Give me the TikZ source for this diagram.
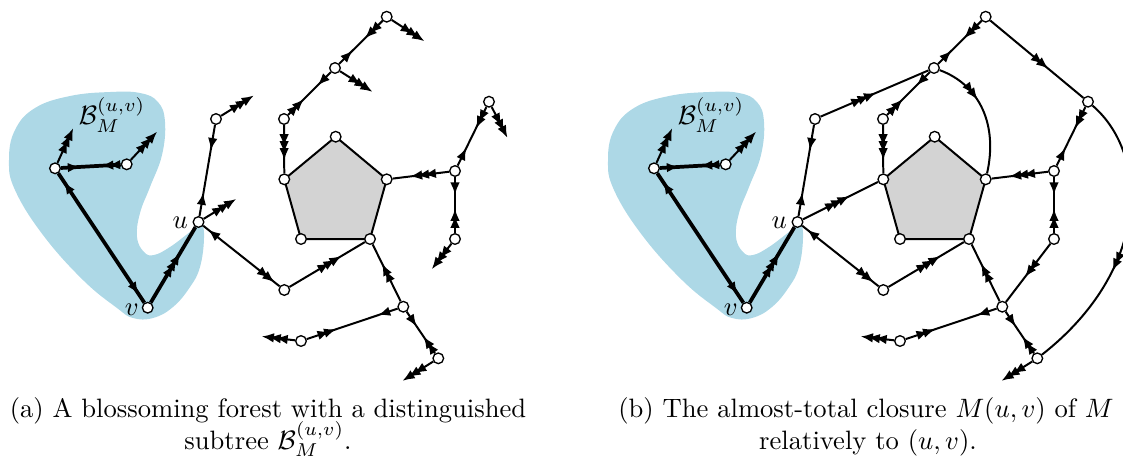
\documentclass[tikz,border=0pt]{standalone}
\usetikzlibrary{arrows.meta,decorations.markings}
\definecolor{blobblue}{RGB}{173,216,230}
\definecolor{pentgray}{RGB}{211,211,211}
\pgfdeclarelayer{bg}
\pgfdeclarelayer{edges}
\pgfsetlayers{bg,edges,main}
\tikzset{
  >={Latex[length=4.6pt,width=3.6pt,sep=-2pt]},
  vtx/.style={circle,draw=black,fill=white,line width=0.5pt,inner sep=0pt,minimum size=4pt},
  edge/.style={line width=0.75pt,draw=black},
  tedge/.style={line width=1.4pt,draw=black},
  stem/.style={line width=0.75pt,draw=black,->>>},
  mf/.style 2 args={postaction={decorate,decoration={markings,mark=at position #1 with {\arrow{#2}}}}},
  mb/.style 2 args={postaction={decorate,decoration={markings,mark=at position #1 with {\arrowreversed{#2}}}}},
  blob/.style={fill=blobblue,draw=none},
  pent/.style={fill=pentgray,draw=black,line width=0.75pt,line join=round},
  lbl/.style={inner sep=1pt},
}
\newcommand\mkvertices[1]{%
  \node[vtx] (#1T) at (386.7,16.7) {};
  \node[vtx] (#1N2) at (335,68) {};
  \node[vtx] (#1N3) at (284,119) {};
  \node[vtx] (#1PT) at (335.7,136.7) {};
  \node[vtx] (#1PL) at (284.3,179.3) {};
  \node[vtx] (#1PR) at (386.7,179.3) {};
  \node[vtx] (#1PBL) at (301,239) {};
  \node[vtx] (#1PBR) at (370,239) {};
  \node[vtx] (#1A) at (216,119) {};
  \node[vtx] (#1U) at (198.5,222) {};
  \node[vtx] (#1P1) at (284.3,290) {};
  \node[vtx] (#1R1) at (489,101.7) {};
  \node[vtx] (#1R2) at (455,171) {};
  \node[vtx] (#1R3) at (455,239) {};
  \node[vtx] (#1B1) at (403.3,306.7) {};
  \node[vtx] (#1B2) at (301,341) {};
  \node[vtx] (#1B3) at (438.3,358.3) {};
  \node[vtx] (#1L1) at (55,168.3) {};
  \node[vtx] (#1L2) at (126.7,164.3) {};
  \node[vtx] (#1V) at (147.7,307.7) {};
  \node[lbl,anchor=east] (#1ulab) at (191,222.5) {$u$};
  \node[lbl,anchor=east] (#1vlab) at (142,310) {$v$};
  \node[lbl] (#1blab) at (112,115) {$\mathcal{B}_M^{(u,v)}$};
  \coordinate (#1L1s) at (71,133);
  \coordinate (#1L2s) at (153.5,135.5);
  \coordinate (#1B2s) at (267,337);
  \coordinate (#1B3s) at (407,378);
}
\newcommand\mkback[1]{%
  \fill[blob] plot[smooth cycle,tension=0.7] coordinates {(110,92) (140,93) (158,102) (165,122) (162,155) (150,187) (140,213) (137,237) (144,252) (154,255) (170,247) (190,232) (201,224) (204,238) (200,267) (190,287) (173,307) (153,318) (133,318) (117,308) (83,280) (43,235) (15,190) (9,160) (15,130) (35,108) (70,96)};
  \draw[pent] (#1PT.center) -- (#1PR.center) -- (#1PBR.center) -- (#1PBL.center) -- (#1PL.center) -- cycle;
}
\newcommand\mkedges[1]{%
  \draw[edge,mf={0.32}{>>},mb={0.78}{>}] (#1T) -- (#1N2);
  \draw[edge,mf={0.22}{>},mb={0.72}{>>}] (#1N2) -- (#1N3);
  \draw[edge,mf={0.62}{>>>}] (#1N3) -- (#1PL);
  \draw[edge,mf={0.6}{>>>}] (#1R2) -- (#1PR);
  \draw[edge,mf={0.22}{>},mb={0.72}{>>}] (#1R2) -- (#1R1);
  \draw[edge,mf={0.22}{>},mb={0.66}{>>}] (#1R2) -- (#1R3);
  \draw[edge,mf={0.58}{>>}] (#1B1) -- (#1PBR);
  \draw[edge,mf={0.27}{>>},mb={0.84}{>}] (#1B2) -- (#1B1);
  \draw[edge,mf={0.25}{>},mb={0.7}{>>}] (#1B1) -- (#1B3);
  \draw[edge,mf={0.63}{>>>}] (#1P1) -- (#1PBR);
  \draw[edge,mb={0.12}{>},mf={0.88}{>>}] (#1U) -- (#1P1);
  \draw[edge,mf={0.22}{>},mb={0.8}{>}] (#1A) -- (#1U);
  \draw[tedge,mf={0.6}{>>>}] (#1V) -- (#1U);
  \draw[tedge,mb={0.1}{>},mf={0.9}{>}] (#1L1) -- (#1V);
  \draw[tedge,mf={0.23}{>},mb={0.76}{>>}] (#1L1) -- (#1L2);
  \draw[stem] (#1L1) -- (#1L1s);
  \draw[stem] (#1L2) -- (#1L2s);
  \draw[stem] (#1B2) -- (#1B2s);
  \draw[stem] (#1B3) -- (#1B3s);
}
\begin{document}
\begin{tikzpicture}[x=0.376pt,y=-0.376pt]
\useasboundingbox (0,0) rectangle (1123,464);
% panel (a)
\begin{scope}
  \mkvertices{a}
  \coordinate (aTs) at (420,38.3);
  \coordinate (aN2s) at (368,89);
  \coordinate (aAs) at (249.3,98.3);
  \coordinate (aUs) at (231.7,201.7);
  \coordinate (aR1s) at (505,133);
  \coordinate (aR3s) at (435,265);
  \begin{pgfonlayer}{bg}\mkback{a}\end{pgfonlayer}
  \begin{pgfonlayer}{edges}
    \mkedges{a}
    \draw[stem] (aT) -- (aTs);
    \draw[stem] (aN2) -- (aN2s);
    \draw[stem] (aA) -- (aAs);
    \draw[stem] (aU) -- (aUs);
    \draw[stem] (aR1) -- (aR1s);
    \draw[stem] (aR3) -- (aR3s);
  \end{pgfonlayer}
\end{scope}
% panel (b)
\begin{scope}[shift={(599,0)}]
  \mkvertices{b}
  \begin{pgfonlayer}{bg}\mkback{b}\end{pgfonlayer}
  \begin{pgfonlayer}{edges}
    \mkedges{b}
    \draw[edge,mf={0.47}{>>>}] (bA) -- (bN2);
    \draw[edge,mf={0.56}{>>>}] (bU) -- (bPL);
    \draw[edge,mf={0.58}{>>}] (bT) -- (bR1);
    \draw[edge,mf={0.35}{>>}] (bN2) .. controls (381,85) and (399,125) .. (bPR);
    \draw[edge,mf={0.6}{>>}] (bR1) .. controls (551,155) and (551,270) .. (bB3);
    \draw[edge,mf={0.5}{>>}] (bR3) -- (bB1);
  \end{pgfonlayer}
\end{scope}
% captions
\node[anchor=base] (capa1) at (268,417) {(a) A blossoming forest with a distinguished};
\node[anchor=base] (capa2) at (268,449) {subtree $\mathcal{B}_M^{(u,v)}$.};
\node[anchor=base] (capb1) at (866,417) {(b) The almost-total closure $M(u,v)$ of $M$};
\node[anchor=base] (capb2) at (868,449) {relatively to $(u,v)$.};
\end{tikzpicture}
\end{document}
